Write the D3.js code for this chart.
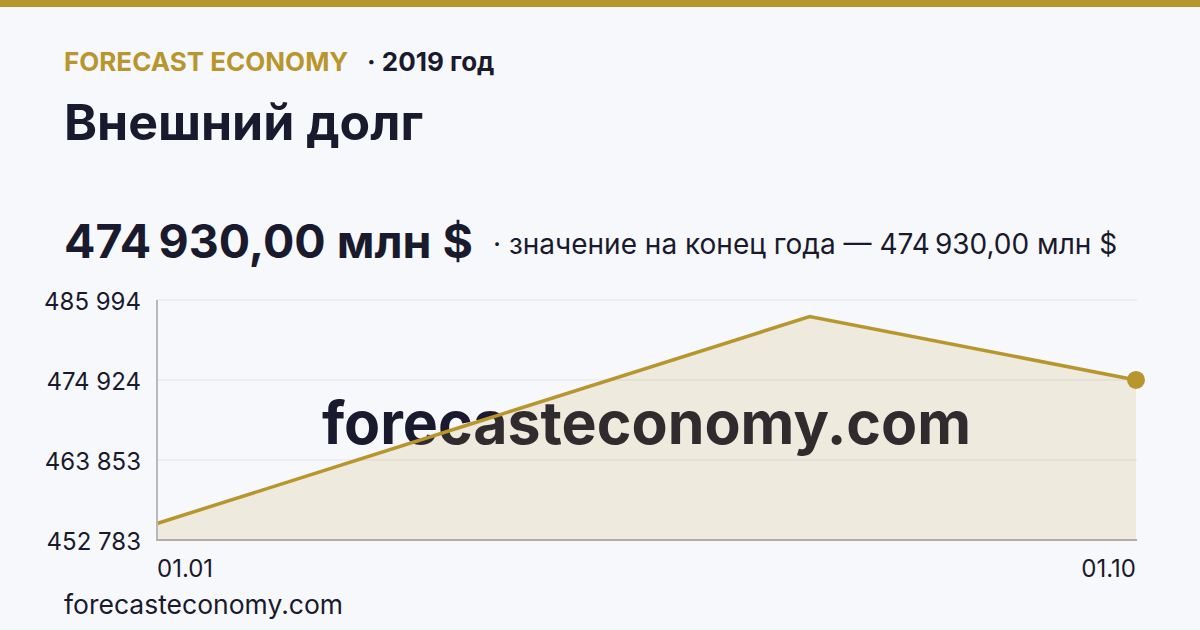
<!DOCTYPE html>
<html><head><meta charset="utf-8">
<script src="https://cdn.jsdelivr.net/npm/d3@7/dist/d3.min.js"></script>
<style>
html,body{margin:0;padding:0;background:#f7f8fc;}
svg{display:block;font-family:Inter,"Noto Sans",sans-serif;}
</style></head>
<body>
<svg id="c" width="1200" height="630"></svg>
<script>
const dates = ["01.01", "01.04", "01.07", "01.10"];
const values = [455070, 469390, 483700, 474930];
const yTicks = [452783, 463853, 474924, 485994];
const xTickLabels = ["01.01", "01.10"];
const brand = "FORECAST ECONOMY";
const yearLabel = "· 2019 год";
const title = "Внешний долг";
const bigValue = "474\u202F930,00 млн $";
const subtitle = "· значение на конец года — 474\u202F930,00 млн $";
const site = "forecasteconomy.com";

const gold = "#b8962e", ink = "#1a1a2e";
const svg = d3.select("#c");
svg.append("rect").attr("width",1200).attr("height",630).attr("fill","#f7f8fc");
svg.append("rect").attr("width",1200).attr("height",7).attr("fill",gold);

svg.append("text").attr("x",64).attr("y",71).attr("fill",gold)
  .attr("font-size",26).attr("font-weight",700).text(brand);
svg.append("text").attr("x",367).attr("y",71).attr("fill",ink)
  .attr("font-size",26).attr("font-weight",700).text(yearLabel);
svg.append("text").attr("x",64).attr("y",140).attr("fill",ink)
  .attr("font-size",50).attr("font-weight",700).text(title);
svg.append("text").attr("x",64).attr("y",258).attr("fill",ink)
  .attr("font-size",46.5).attr("font-weight",700).text(bigValue);
svg.append("text").attr("x",493).attr("y",254).attr("fill",ink)
  .attr("font-size",28).text(subtitle);

const m = {l:157, r:1136, t:300, b:540};
const x = d3.scalePoint().domain(dates).range([m.l, m.r]);
const y = d3.scaleLinear().domain([yTicks[0], yTicks[yTicks.length-1]]).range([m.b, m.t]);

// grid
svg.append("g").selectAll("line").data(yTicks.slice(1)).join("line")
  .attr("x1",m.l).attr("x2",m.r+1).attr("y1",d=>y(d)).attr("y2",d=>y(d))
  .attr("stroke","#e2e3e9").attr("stroke-width",1);

// y axis labels
const yAxis = d3.axisLeft(y).tickValues(yTicks).tickSize(0).tickPadding(16)
  .tickFormat(d=>d3.format(",")(d).replace(/,/g," "));
const ya = svg.append("g").attr("transform",`translate(${m.l},0)`).call(yAxis);
ya.select(".domain").remove();
ya.selectAll("text").attr("font-size",24).attr("fill",ink).attr("font-family","Inter").attr("dy","0.4em");

// watermark
svg.append("text").attr("x",(m.l+m.r)/2).attr("y",(m.t+m.b)/2+2).attr("text-anchor","middle")
  .attr("dominant-baseline","central").attr("fill",ink).attr("font-size",59).attr("font-weight",700)
  .text(site);

const pts = dates.map((d,i)=>({d, v:values[i]}));
const area = d3.area().x(p=>x(p.d)).y0(m.b).y1(p=>y(p.v));
svg.append("path").datum(pts).attr("d",area).attr("fill",gold).attr("fill-opacity",0.14);
const line = d3.line().x(p=>x(p.d)).y(p=>y(p.v));
svg.append("path").datum(pts).attr("d",line).attr("fill","none").attr("stroke",gold).attr("stroke-width",3.5);

// axes lines
svg.append("line").attr("x1",m.l).attr("x2",m.l).attr("y1",m.t).attr("y2",m.b+1)
  .attr("stroke","#b9b9bd").attr("stroke-width",2);
svg.append("line").attr("x1",m.l).attr("x2",m.r+1).attr("y1",m.b).attr("y2",m.b)
  .attr("stroke","#b3aea5").attr("stroke-width",2);

const last = pts[pts.length-1];
svg.append("circle").attr("cx",x(last.d)).attr("cy",y(last.v)).attr("r",9).attr("fill",gold);

// x labels
svg.selectAll("text.xl").data(xTickLabels).join("text").attr("class","xl")
  .attr("x",d=>x(d)).attr("y",577).attr("text-anchor",(d,i)=>i===0?"start":"end")
  .attr("fill",ink).attr("font-size",24).text(d=>d);

svg.append("text").attr("x",64).attr("y",614).attr("fill",ink).attr("font-size",26.5).text(site);
</script>
</body></html>
